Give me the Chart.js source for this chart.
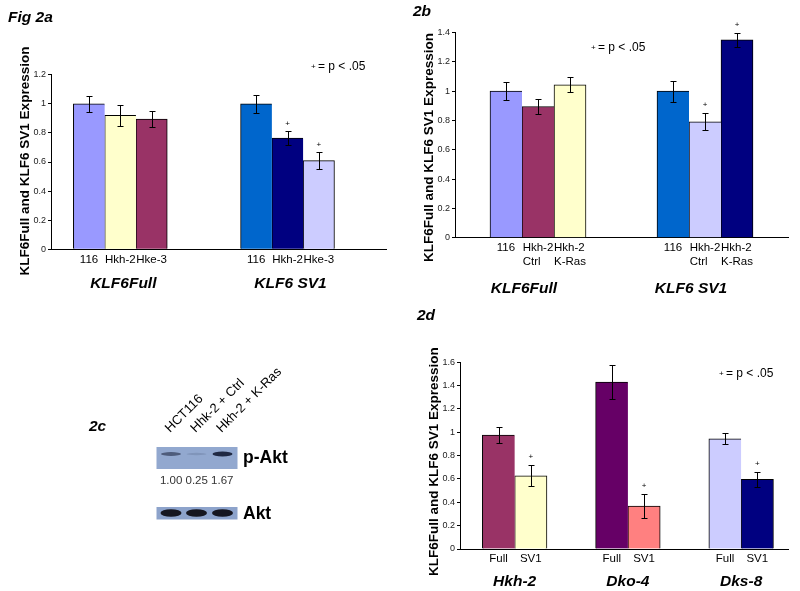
<!DOCTYPE html>
<html>
<head>
<meta charset="utf-8">
<script src="https://cdn.jsdelivr.net/npm/chart.js@4"></script>
<style>
  html, body { margin: 0; padding: 0; background: #fff; }
  #page { position: relative; width: 800px; height: 591px; overflow: hidden; }
  #page canvas { position: absolute; left: 0; top: 0; }
</style>
</head>
<body>
<div id="page">
  <canvas id="chart2a" width="800" height="591"></canvas>
  <canvas id="chart2b" width="800" height="591"></canvas>
  <canvas id="chart2d" width="800" height="591"></canvas>
  <canvas id="notes" width="800" height="591"></canvas>
</div>
<script>
const FAMILY = "'Liberation Sans', Arial, Helvetica, sans-serif";
const Y_TITLE = 'KLF6Full and KLF6 SV1 Expression';

// ---- Fig 2a ----
const groups2a = ['KLF6Full', 'KLF6 SV1'];
const cells2a = [['116'], ['Hkh-2'], ['Hke-3']];
const full2a = [1.00, 0.92, 0.895];
const fullErr2a = [0.055, 0.072, 0.053];
const sv1_2a = [1.00, 0.765, 0.61];
const sv1Err2a = [0.062, 0.048, 0.06];
const sig2a = [[false, false, false], [false, true, true]];
const yTicks2a = [0, 0.2, 0.4, 0.6, 0.8, 1, 1.2];

// ---- Fig 2b ----
const groups2b = ['KLF6Full', 'KLF6 SV1'];
const cells2b = [['116'], ['Hkh-2', 'Ctrl'], ['Hkh-2', 'K-Ras']];
const full2b = [1.00, 0.895, 1.043];
const fullErr2b = [0.06, 0.053, 0.052];
const sv1_2b = [1.00, 0.79, 1.35];
const sv1Err2b = [0.072, 0.058, 0.048];
const sig2b = [[false, false, false], [false, true, true]];
const yTicks2b = [0, 0.2, 0.4, 0.6, 0.8, 1, 1.2, 1.4];

// ---- Fig 2c (western blot) ----
const lanes2c = ['HCT116', 'Hhk-2 + Ctrl', 'Hkh-2 + K-Ras'];
const pAktRatio2c = [1.00, 0.25, 1.67];

// ---- Fig 2d ----
const groups2d = ['Hkh-2', 'Dko-4', 'Dks-8'];
const cells2d = [['Full'], ['SV1']];
const hkh2d = [0.977, 0.628];
const hkhErr2d = [0.066, 0.089];
const dko2d = [1.43, 0.368];
const dkoErr2d = [0.143, 0.10];
const dks2d = [0.945, 0.597];
const dksErr2d = [0.049, 0.063];
const sig2d = [[false, true], [false, true], [false, true]];
const yTicks2d = [0, 0.2, 0.4, 0.6, 0.8, 1, 1.2, 1.4, 1.6];

// colours, per group then per bar
const colors2a = [['#9999FF', '#FFFFCC', '#993366'], ['#0066CC', '#000080', '#CCCCFF']];
const colors2b = [['#9999FF', '#993366', '#FFFFCC'], ['#0066CC', '#CCCCFF', '#000080']];
const colors2d = [['#993366', '#FFFFCC'], ['#660066', '#FF8080'], ['#CCCCFF', '#000080']];

Chart.defaults.font.family = FAMILY;
Chart.defaults.color = '#000';

// one dataset per bar slot, so the bars of a group sit side by side
function slotDatasets(cells, values, errors, sig, colors) {
    return cells.map((cell, j) => ({
        data: values.map(v => v[j]),
        errors: errors.map(e => e[j]),
        sig: sig.map(s => s[j]),
        cellLabel: cell,
        backgroundColor: colors.map(c => c[j]),
        borderColor: '#000',
        borderWidth: j === cells.length - 1 ? 1 : { top: 1, left: 1, right: 0, bottom: 0 }
    }));
}

function figurePlugin(t) {
    return {
        id: 'figure',
        afterDatasetsDraw(chart) {
            const { ctx, chartArea } = chart;
            const xs = chart.scales.x, ys = chart.scales.y;
            ctx.save();
            ctx.fillStyle = '#000';
            ctx.strokeStyle = '#000';
            ctx.lineWidth = 1;
            chart.data.datasets.forEach((ds, i) => {
                chart.getDatasetMeta(i).data.forEach((bar, j) => {
                    const cx = Math.round(bar.x) + 0.5;
                    const top = Math.round(ys.getPixelForValue(ds.data[j] + ds.errors[j])) + 0.5;
                    const bot = Math.round(ys.getPixelForValue(ds.data[j] - ds.errors[j])) + 0.5;
                    ctx.beginPath();
                    ctx.moveTo(cx, top); ctx.lineTo(cx, bot);
                    ctx.moveTo(cx - 3, top); ctx.lineTo(cx + 3, top);
                    ctx.moveTo(cx - 3, bot); ctx.lineTo(cx + 3, bot);
                    ctx.stroke();
                    if (ds.sig[j]) {
                        ctx.font = '8px ' + FAMILY;
                        ctx.textAlign = 'center';
                        ctx.textBaseline = 'middle';
                        ctx.fillText('+', bar.x, top - t.sigGap);
                    }
                    // label under each bar, lines left aligned in a centred block
                    ctx.font = t.cellSize + 'px ' + FAMILY;
                    ctx.textAlign = 'left';
                    ctx.textBaseline = 'middle';
                    const w = Math.max(...ds.cellLabel.map(l => ctx.measureText(l).width));
                    ds.cellLabel.forEach((l, k) => {
                        ctx.fillText(l, bar.x - w / 2, chartArea.bottom + t.cellOffset + k * t.cellLine);
                    });
                });
            });
            ctx.font = 'italic bold ' + t.groupSize + 'px ' + FAMILY;
            ctx.textAlign = 'center';
            t.groups.forEach((g, i) => {
                ctx.fillText(g, xs.getPixelForValue(i) + t.groupShift, chartArea.bottom + t.groupOffset);
            });
            // axis title
            ctx.save();
            ctx.translate(t.yTitleAt[0], t.yTitleAt[1]);
            ctx.rotate(-Math.PI / 2);
            ctx.font = 'bold 13.5px ' + FAMILY;
            ctx.fillText(Y_TITLE, 0, 0);
            ctx.restore();
            // significance note
            ctx.textAlign = 'left';
            ctx.font = '8px ' + FAMILY;
            ctx.fillText('+', t.noteAt[0], t.noteAt[1]);
            ctx.font = '12px ' + FAMILY;
            ctx.fillText('= p < .05', t.noteAt[0] + 7, t.noteAt[1]);
            ctx.restore();
        }
    };
}

function makeChart(id, c) {
    return new Chart(document.getElementById(id), {
        type: 'bar',
        data: {
            labels: c.groups.map((g, i) => i),
            datasets: slotDatasets(c.cells, c.values, c.errors, c.sig, c.colors)
        },
        options: {
            responsive: false,
            animation: false,
            events: [],
            layout: { padding: c.padding },
            datasets: { bar: { barThickness: c.barWidth } },
            plugins: { legend: { display: false }, tooltip: { enabled: false } },
            scales: {
                x: {
                    type: 'linear',
                    min: c.xRange[0],
                    max: c.xRange[1],
                    offset: false,
                    grid: { display: false },
                    border: { display: true, color: '#000', width: 1 },
                    ticks: { display: false },
                    afterBuildTicks: s => { s.ticks = c.groups.map((g, i) => ({ value: i })); },
                    afterFit: s => { s.height = 0; }
                },
                y: {
                    min: c.yTicks[0],
                    max: c.yTicks[c.yTicks.length - 1],
                    grid: { display: true, drawOnChartArea: false, drawTicks: true, tickLength: 3, color: '#000' },
                    border: { display: true, color: '#000', width: 1 },
                    ticks: { font: { size: 9 }, color: '#222', padding: 2, callback: v => String(v) },
                    afterBuildTicks: s => { s.ticks = c.yTicks.map(v => ({ value: v })); },
                    afterFit: s => { s.width = 30; }
                }
            }
        },
        plugins: [figurePlugin(c.text)]
    });
}

makeChart('chart2a', {
    groups: groups2a, cells: cells2a,
    values: [full2a, sv1_2a], errors: [fullErr2a, sv1Err2a], sig: sig2a, colors: colors2a,
    yTicks: yTicks2a, xRange: [-0.4145, 1.589], barWidth: 31.3,
    padding: { left: 21, top: 74.7, right: 414, bottom: 341.7 },
    text: { groups: groups2a, cellSize: 11.5, cellOffset: 11, cellLine: 13.4, groupSize: 15.5,
            groupOffset: 34, groupShift: 3, sigGap: 8, yTitleAt: [25, 161], noteAt: [311, 66.7] }
});

makeChart('chart2b', {
    groups: groups2b, cells: cells2b,
    values: [full2b, sv1_2b], errors: [fullErr2b, sv1Err2b], sig: sig2b, colors: colors2b,
    yTicks: yTicks2b, xRange: [-0.497, 1.497], barWidth: 32,
    padding: { left: 425, top: 32.5, right: 12, bottom: 353.3 },
    text: { groups: groups2b, cellSize: 11.5, cellOffset: 10.6, cellLine: 13.4, groupSize: 15.5,
            groupOffset: 50.6, groupShift: -14, sigGap: 9, yTitleAt: [429, 147.5], noteAt: [591, 47.7] }
});

makeChart('chart2d', {
    groups: groups2d, cells: cells2d,
    values: [hkh2d, dko2d, dks2d], errors: [hkhErr2d, dkoErr2d, dksErr2d], sig: sig2d, colors: colors2d,
    yTicks: yTicks2d, xRange: [-0.4826, 2.4137], barWidth: 32.3,
    padding: { left: 430, top: 362.3, right: 12, bottom: 42 },
    text: { groups: groups2d, cellSize: 11.5, cellOffset: 10.3, cellLine: 13.4, groupSize: 15.5,
            groupOffset: 32.7, groupShift: 0, sigGap: 9, yTitleAt: [434, 461.7], noteAt: [719, 374] }
});

// panel letters and the blot picture of 2c
function drawNotes() {
    const ctx = document.getElementById('notes').getContext('2d');
    ctx.fillStyle = '#000';
    ctx.textBaseline = 'middle';
    ctx.font = 'italic bold 15.5px ' + FAMILY;
    ctx.fillText('Fig 2a', 8, 18);
    ctx.fillText('2b', 413, 12);
    ctx.fillText('2c', 89, 427);
    ctx.fillText('2d', 417, 316);

    const laneX = [171, 196.5, 222.5];

    // lane names, written on a slant
    ctx.font = '13px ' + FAMILY;
    ctx.textBaseline = 'alphabetic';
    lanes2c.forEach((name, i) => {
        ctx.save();
        ctx.translate(laneX[i] - 1, 433);
        ctx.rotate(-Math.PI / 4);
        ctx.fillText(name, 0, 0);
        ctx.restore();
    });

    // p-Akt strip
    ctx.fillStyle = '#92A8CF';
    ctx.fillRect(156.5, 447, 81, 22);
    pAktRatio2c.forEach((r, i) => {
        ctx.fillStyle = 'rgba(10, 15, 40,' + Math.min(0.9, 0.5 * r) + ')';
        ctx.beginPath();
        ctx.ellipse(laneX[i], 454, 10, 1 + r * 0.9, 0, 0, Math.PI * 2);
        ctx.fill();
    });

    // Akt strip
    ctx.fillStyle = '#8DA3CB';
    ctx.fillRect(156.5, 507, 81, 12.5);
    laneX.forEach(x => {
        ctx.fillStyle = '#16161f';
        ctx.beginPath();
        ctx.ellipse(x, 513, 10.5, 3.8, 0, 0, Math.PI * 2);
        ctx.fill();
    });

    ctx.fillStyle = '#000';
    ctx.textBaseline = 'middle';
    ctx.font = 'bold 17.5px ' + FAMILY;
    ctx.fillText('p-Akt', 243, 458);
    ctx.fillText('Akt', 243, 514);

    ctx.fillStyle = '#333';
    ctx.font = '11.5px ' + FAMILY;
    ctx.textAlign = 'center';
    ctx.fillText(pAktRatio2c.map(v => v.toFixed(2)).join(' '), 196.7, 481);
}

drawNotes();
</script>
</body>
</html>
